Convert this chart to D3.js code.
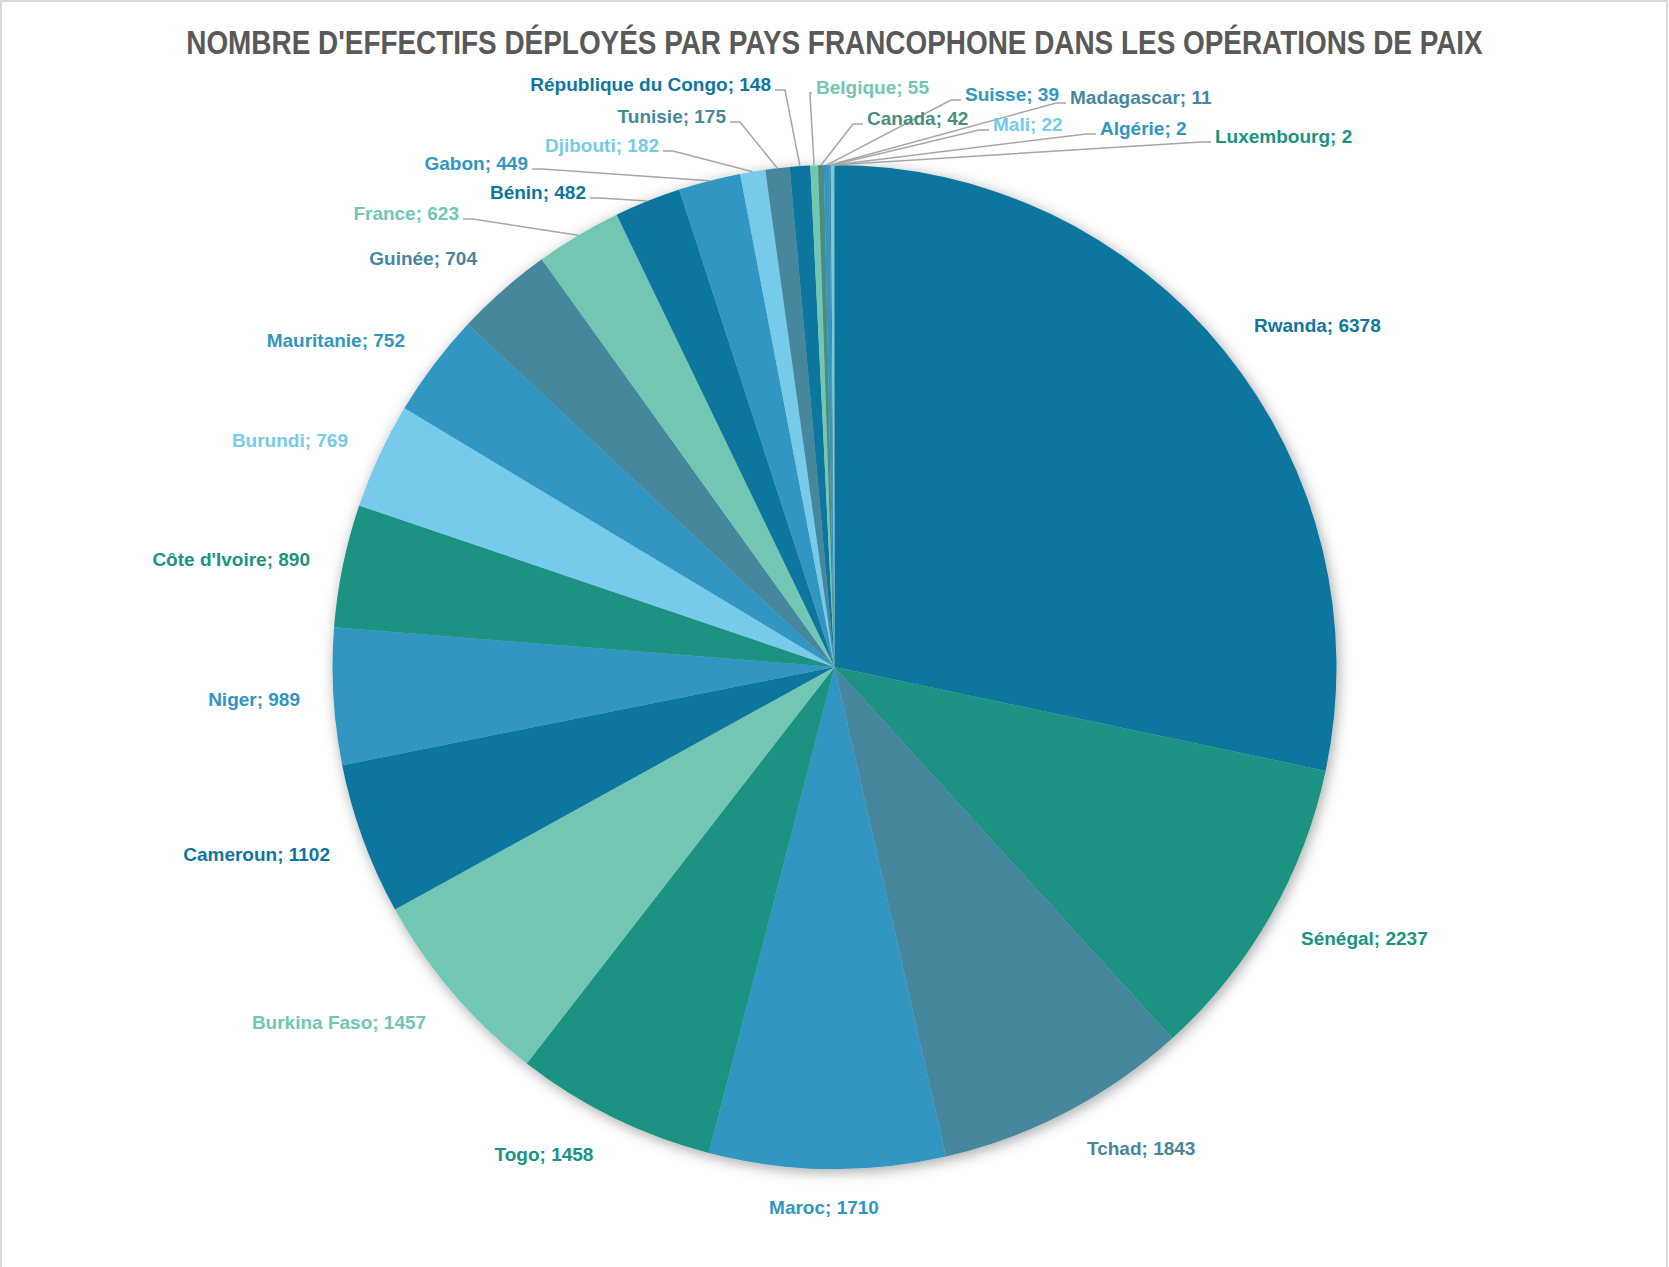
<!DOCTYPE html>
<html>
<head>
<meta charset="utf-8">
<script src="https://cdn.jsdelivr.net/npm/d3@7"></script>
<style>
  body { margin: 0; background: #fff; }
  svg { display: block; }
</style>
</head>
<body>
<script>
// chart size
const w = 1669;
const h = 1267;

// DATA: troops deployed, in Excel's series order (pie starts at 12 o'clock)
const countries = [
  "Rwanda", "Sénégal", "Tchad", "Maroc", "Togo", "Burkina Faso", "Cameroun",
  "Niger", "Côte d'Ivoire", "Burundi", "Mauritanie", "Guinée", "France",
  "Bénin", "Gabon", "Djibouti", "Tunisie", "République du Congo", "Belgique",
  "Canada", "Suisse", "Madagascar", "Mali", "Algérie", "Luxembourg"
];
const effectifs = [
  6378, 2237, 1843, 1710, 1458, 1457, 1102,
  989, 890, 769, 752, 704, 623,
  482, 449, 182, 175, 148, 55,
  42, 39, 11, 22, 2, 2
];
const title = "NOMBRE D'EFFECTIFS DÉPLOYÉS PAR PAYS FRANCOPHONE DANS LES OPÉRATIONS DE PAIX";

// slice colours (Excel theme, one per slice)
const sliceColors = [
  "#0E769F", "#1A9382", "#46879E", "#3196C2", "#1A9382", "#71C7B4", "#0E769F",
  "#3196C2", "#1A9382", "#76CAEA", "#3196C2", "#46879E", "#71C7B4",
  "#0E769F", "#3196C2", "#76CAEA", "#46879E", "#0E769F", "#71C7B4",
  "#4A8C80", "#3196C2", "#46879E", "#76CAEA", "#3196C2", "#1A9382"
];

// where the data labels sit (x of the text edge, y of its middle, anchor)
const labelSpots = [
  [1254, 325, "start"], [1301, 938, "start"], [1087, 1148, "start"], [824, 1207, "middle"],
  [544, 1154, "middle"], [339, 1022, "middle"], [330, 854, "end"], [300, 699, "end"],
  [310, 559, "end"], [348, 440, "end"], [405, 340, "end"], [477, 258, "end"],
  [459, 213, "end"], [586, 192, "end"], [528, 163, "end"], [659, 145, "end"],
  [726, 116, "end"], [771, 84, "end"], [816, 87, "start"], [867, 118, "start"],
  [965, 94, "start"], [1070, 97, "start"], [993, 124, "start"], [1100, 128, "start"],
  [1215, 136, "start"]
];
// labels from this index on get a leader line
const FIRST_CALLOUT = 12;

const cx = 834.5, cy = 667, R = 502;

let svg = d3.select("body")
  .append("svg")
  .attr("width", w)
  .attr("height", h);

// chart area border
svg.append("rect")
  .attr("x", 1).attr("y", 1)
  .attr("width", w - 3).attr("height", h + 40)
  .attr("fill", "#fff")
  .attr("stroke", "#D9D9D9")
  .attr("stroke-width", 2);

// soft shadow under the pie
let defs = svg.append("defs");
defs.append("filter")
  .attr("id", "shadow")
  .attr("x", "-10%").attr("y", "-10%")
  .attr("width", "120%").attr("height", "120%")
  .append("feDropShadow")
  .attr("dx", 2).attr("dy", 3)
  .attr("stdDeviation", 7)
  .attr("flood-color", "#000")
  .attr("flood-opacity", 0.35);

// title: no narrow font installed, so squeeze a regular bold one
svg.append("text")
  .attr("transform", "translate(" + (w / 2) + ",54) scale(0.846,1)")
  .attr("text-anchor", "middle")
  .attr("font-family", "'Liberation Sans', Arial, sans-serif")
  .attr("font-weight", "bold")
  .attr("font-size", 33)
  .attr("fill", "#595959")
  .text(title);

const color = d3.scaleOrdinal(countries, sliceColors);

let pie = d3.pie()
  .sort(null)
  .value(d => d)
  .startAngle(0)
  .endAngle(2 * Math.PI);

const arcs = pie(effectifs);

let arc = d3.arc().innerRadius(0).outerRadius(R);
let rim = d3.arc().innerRadius(R).outerRadius(R);

let g = svg.append("g")
  .attr("transform", "translate(" + cx + "," + cy + ")");

g.append("g")
  .attr("filter", "url(#shadow)")
  .selectAll("path")
  .data(arcs)
  .enter()
  .append("path")
  .attr("d", arc)
  .attr("fill", (d, i) => color(countries[i]));

// leader lines for the crowded small slices
let leaders = svg.append("g");
arcs.forEach((d, i) => {
  if (i < FIRST_CALLOUT) return;
  const [lx, ly, anchor] = labelSpots[i];
  const p = rim.centroid(d);
  const px = p[0] + cx, py = p[1] + cy;
  const side = anchor === "end" ? 1 : -1;
  const x0 = lx + side * 4, y0 = ly + 6;
  const stub = Math.min(10, Math.abs(px - x0));
  leaders.append("polyline")
    .attr("points", [[x0, y0], [x0 + side * stub, y0], [px, py]].map(q => q.join(",")).join(" "))
    .attr("fill", "none")
    .attr("stroke", "#A6A6A6")
    .attr("stroke-width", 1.5);
});

svg.append("g")
  .selectAll("text")
  .data(arcs)
  .enter()
  .append("text")
  .attr("x", (d, i) => labelSpots[i][0])
  .attr("y", (d, i) => labelSpots[i][1])
  .attr("dy", "0.36em")
  .attr("text-anchor", (d, i) => labelSpots[i][2])
  .attr("font-family", "'Liberation Sans', Arial, sans-serif")
  .attr("font-weight", "bold")
  .attr("font-size", 19)
  .attr("fill", (d, i) => color(countries[i]))
  .text((d, i) => countries[i] + "; " + effectifs[i]);
</script>
</body>
</html>
